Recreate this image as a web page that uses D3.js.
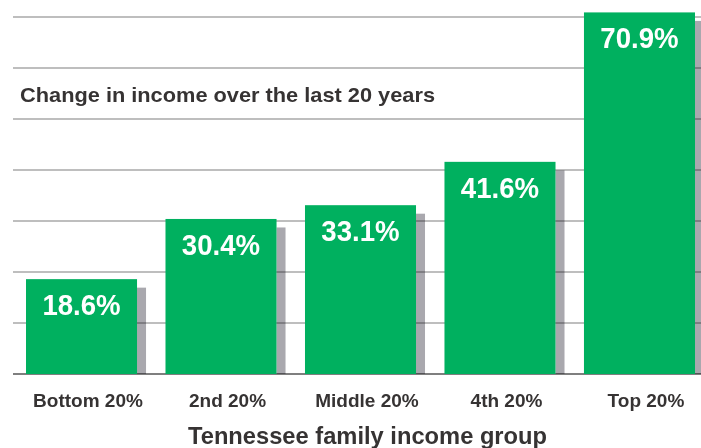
<!DOCTYPE html>
<html>
<head>
<meta charset="utf-8">
<script src="https://cdn.jsdelivr.net/npm/d3@7"></script>
<style>
  html, body { margin: 0; padding: 0; background: #ffffff; }
  svg { display: block; }
  text { font-family: "Liberation Sans", Arial, Helvetica, sans-serif; font-weight: bold; }
</style>
</head>
<body>
<svg id="chart" width="701" height="448"></svg>
<script>
const categories = ["Bottom 20%", "2nd 20%", "Middle 20%", "4th 20%", "Top 20%"];
const values = [18.6, 30.4, 33.1, 41.6, 70.9];
const valueLabels = ["18.6%", "30.4%", "33.1%", "41.6%", "70.9%"];
const gridTicks = [0, 10, 20, 30, 40, 50, 60, 70];
const chartTitle = "Change in income over the last 20 years";
const axisTitle = "Tennessee family income group";

const svg = d3.select("#chart");
const W = 701;

const x = d3.scaleBand().domain(categories).range([26, 695]).paddingInner(0.204).paddingOuter(0);
const y = d3.scaleLinear().domain([0, 70]).range([374, 17]);

const green = "#00b05f";
const shadow = "#a9a8ae";
const shadowW = 9, shadowDrop = 8.5;

// shadows
svg.append("g").selectAll("rect").data(categories).join("rect")
  .attr("x", d => x(d) + x.bandwidth())
  .attr("y", (d, i) => y(values[i]) + shadowDrop)
  .attr("width", shadowW)
  .attr("height", (d, i) => y(0) - y(values[i]) - shadowDrop)
  .attr("fill", shadow);

// gridlines
const grid = svg.append("g").style("mix-blend-mode", "multiply");
grid.selectAll("line").data(gridTicks).join("line")
  .attr("x1", 13).attr("x2", W)
  .attr("y1", d => y(d)).attr("y2", d => y(d))
  .attr("stroke", d => d === 0 ? "#555" : "#a8a8a8")
  .attr("stroke-width", 1.6);

// bars
svg.append("g").selectAll("rect").data(categories).join("rect")
  .attr("x", d => x(d))
  .attr("y", (d, i) => y(values[i]))
  .attr("width", x.bandwidth())
  .attr("height", (d, i) => y(0) - y(values[i]))
  .attr("fill", green);

function condense(sel, factor) {
  sel.each(function () {
    const len = this.getComputedTextLength();
    d3.select(this).attr("textLength", len * factor).attr("lengthAdjust", "spacingAndGlyphs");
  });
}

// value labels
const vl = svg.append("g").selectAll("text").data(categories).join("text")
  .attr("x", d => x(d) + x.bandwidth() / 2)
  .attr("y", (d, i) => y(values[i]) + 36)
  .attr("text-anchor", "middle")
  .attr("fill", "#ffffff")
  .attr("font-size", 30)
  .text((d, i) => valueLabels[i]);
condense(vl, 0.92);

// category labels
svg.append("g").selectAll("text").data(categories).join("text")
  .attr("x", d => x(d) + (x.bandwidth() + shadowW) / 2 + 2)
  .attr("y", 407)
  .attr("text-anchor", "middle")
  .attr("fill", "#363333")
  .attr("font-size", 19)
  .text(d => d);

// title inside chart
svg.append("text")
  .attr("x", 20).attr("y", 102)
  .attr("fill", "#363333")
  .attr("font-size", 21)
  .attr("textLength", 415).attr("lengthAdjust", "spacingAndGlyphs")
  .text(chartTitle);

// axis title
svg.append("text")
  .attr("x", 367.5).attr("y", 444)
  .attr("text-anchor", "middle")
  .attr("fill", "#363333")
  .attr("font-size", 24)
  .attr("textLength", 359).attr("lengthAdjust", "spacingAndGlyphs")
  .text(axisTitle);
</script>
</body>
</html>
